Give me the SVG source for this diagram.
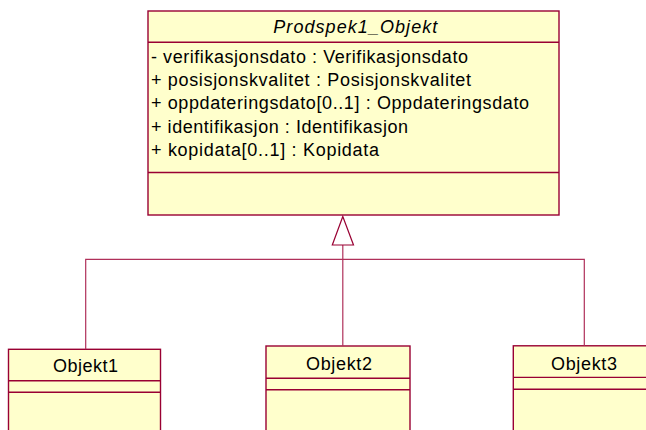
<svg xmlns="http://www.w3.org/2000/svg" width="646" height="430" viewBox="0 0 646 430">
<style>
.box{fill:#ffffcc;stroke:#990033;stroke-width:1.4}
.sep{stroke:#990033;stroke-width:1.4;fill:none}
.t{font-family:"Liberation Sans",Arial,sans-serif;font-size:18px;fill:#000}
.c{fill:none;stroke:#b0305a;stroke-width:1.2}
.tri{fill:#ffffff;stroke:#990033;stroke-width:1.2}
</style>
<rect width="646" height="430" fill="#ffffff"/>
<g id="Prodspek1_Objekt">
<rect class="box" x="148" y="11" width="411" height="204"/>
<line class="sep" x1="148" y1="42.3" x2="559" y2="42.3"/>
<line class="sep" x1="148" y1="172.5" x2="559" y2="172.5"/>
<text class="t" x="273.3" y="33.3" font-style="italic" textLength="164" lengthAdjust="spacing">Prodspek1_Objekt</text>
<text class="t" x="151" y="63" textLength="317" lengthAdjust="spacing">- verifikasjonsdato : Verifikasjonsdato</text>
<text class="t" x="151" y="86.2" textLength="320" lengthAdjust="spacing">+ posisjonskvalitet : Posisjonskvalitet</text>
<text class="t" x="151" y="109.4" textLength="378" lengthAdjust="spacing">+ oppdateringsdato[0..1] : Oppdateringsdato</text>
<text class="t" x="151" y="132.6" textLength="257" lengthAdjust="spacing">+ identifikasjon : Identifikasjon</text>
<text class="t" x="151" y="155.8" textLength="228" lengthAdjust="spacing">+ kopidata[0..1] : Kopidata</text>
</g>
<g id="Objekt1">
<rect class="box" x="8.5" y="349.3" width="152" height="100"/>
<line class="sep" x1="8.5" y1="380.8" x2="160.5" y2="380.8"/>
<line class="sep" x1="8.5" y1="392.3" x2="160.5" y2="392.3"/>
<text class="t" x="53" y="371.7" textLength="65" lengthAdjust="spacing">Objekt1</text>
</g>
<g id="Objekt2">
<rect class="box" x="266" y="346" width="144" height="100"/>
<line class="sep" x1="266" y1="378.2" x2="410" y2="378.2"/>
<line class="sep" x1="266" y1="389.8" x2="410" y2="389.8"/>
<text class="t" x="306" y="370" textLength="66" lengthAdjust="spacing">Objekt2</text>
</g>
<g id="Objekt3">
<rect class="box" x="513.3" y="345.8" width="142" height="100"/>
<line class="sep" x1="513.3" y1="377.4" x2="655.3" y2="377.4"/>
<line class="sep" x1="513.3" y1="389.3" x2="655.3" y2="389.3"/>
<text class="t" x="551" y="369.7" textLength="66" lengthAdjust="spacing">Objekt3</text>
</g>
<g id="connectors">
<polyline class="c" points="85.7,349.3 85.7,259.3 584.3,259.3 584.3,345.8"/>
<line class="c" x1="342.8" y1="245" x2="342.8" y2="346"/>
<polygon class="tri" points="342.8,216.5 332.3,245 353.5,245"/>
</g>
</svg>
